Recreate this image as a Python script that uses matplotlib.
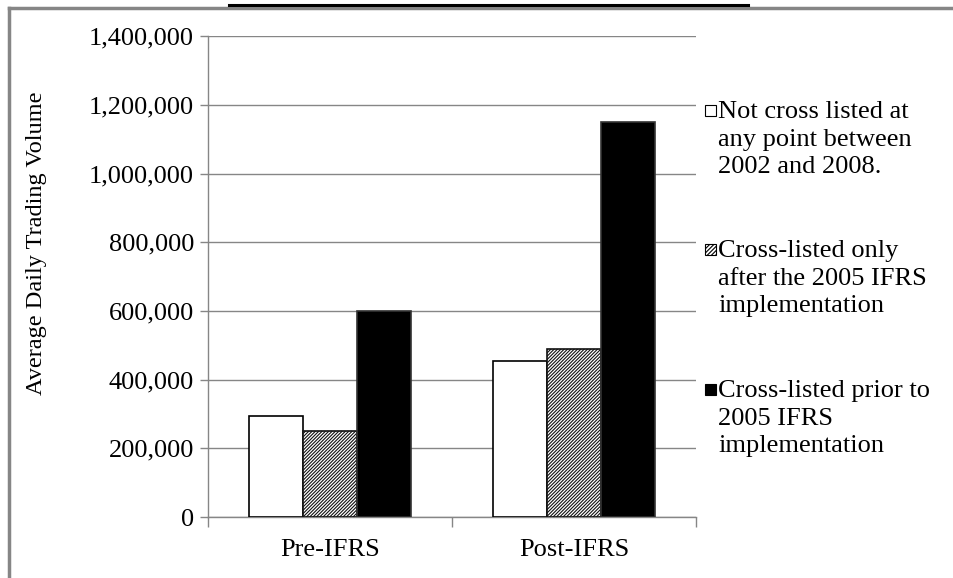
import matplotlib.pyplot as plt
from matplotlib.patches import Rectangle
from matplotlib.lines import Line2D
import numpy as np

plt.rcParams['font.family'] = ['Liberation Serif', 'DejaVu Serif']
plt.rcParams['hatch.linewidth'] = 0.8

# data
categories = ["Pre-IFRS", "Post-IFRS"]
not_cross_listed = [295000, 455000]
cross_after_2005 = [249000, 489000]
cross_prior_2005 = [600000, 1150000]
series_labels = ["Not cross listed at\nany point between\n2002 and 2008.",
                 "Cross-listed only\nafter the 2005 IFRS\nimplementation",
                 "Cross-listed prior to\n2005 IFRS\nimplementation"]
y_ticks = [0, 200000, 400000, 600000, 800000, 1000000, 1200000, 1400000]

grey = "#868686"
fs = 19

fig = plt.figure(figsize=(9.54, 5.78), dpi=100)
ax = fig.add_axes([0.218, 0.1055, 0.5115, 0.832])

x = np.arange(len(categories))
w = 0.221
styles = [dict(color="white", edgecolor="black", hatch=None),
          dict(color="white", edgecolor="#111111", hatch="/" * 10),
          dict(color="black", edgecolor="#333333", hatch=None)]
all_series = [not_cross_listed, cross_after_2005, cross_prior_2005]
for i, (vals, st) in enumerate(zip(all_series, styles)):
    ax.bar(x + (i - 1) * w, vals, w, facecolor=st["color"], edgecolor=st["edgecolor"],
           hatch=st["hatch"], linewidth=1.2, zorder=3)

ax.set_xlim(-0.5, 1.5)
ax.set_ylim(0, 1400000)
ax.set_yticks(y_ticks)
ax.set_yticklabels([f"{v:,}" for v in y_ticks], fontsize=fs)
ax.yaxis.grid(True, color=grey, linewidth=1.0, zorder=0)
ax.set_axisbelow(True)

ax.set_xticks(x)
ax.set_xticklabels(categories, fontsize=fs)
ax.set_xticks([-0.5, 0.5, 1.5], minor=True)
ax.tick_params(axis="x", which="major", length=0, pad=16)
ax.tick_params(axis="x", which="minor", length=7, color=grey, width=1)
ax.tick_params(axis="y", length=6, color=grey, width=1, pad=4)

for s in ["top", "right"]:
    ax.spines[s].set_visible(False)
for s in ["left", "bottom"]:
    ax.spines[s].set_color(grey)
    ax.spines[s].set_linewidth(1.0)

ax.set_ylabel("Average Daily Trading Volume", fontsize=17.5)
ax.yaxis.set_label_coords(-0.33, 0.57)

# legend drawn by hand so the marker sits on the first line
text_x = 718 / 954
box_x = 705 / 954
tops = [101, 240, 380]
fills = ["white", "white", "black"]
hatches = [None, "/" * 8, None]
for lbl, top, fc, h in zip(series_labels, tops, fills, hatches):
    fig.text(text_x, 1 - top / 578, lbl, fontsize=fs, va="top", ha="left",
             linespacing=1.33)
    fig.add_artist(Rectangle((box_x, 1 - (top + 15) / 578), 11 / 954, 11 / 578,
                             transform=fig.transFigure, facecolor=fc,
                             edgecolor="black", hatch=h, linewidth=0.8))

# outer frame and clipped title underline
fig.add_artist(Line2D([9 / 954, 9 / 954], [0, 1 - 8 / 578], transform=fig.transFigure,
                      color=grey, linewidth=2.5))
fig.add_artist(Line2D([9 / 954, 1], [1 - 8 / 578, 1 - 8 / 578], transform=fig.transFigure,
                      color=grey, linewidth=2.5))
fig.add_artist(Line2D([229 / 954, 748 / 954], [1 - 5 / 578, 1 - 5 / 578],
                      transform=fig.transFigure, color="black", linewidth=2.2))

fig.savefig("out.png", dpi=100)
